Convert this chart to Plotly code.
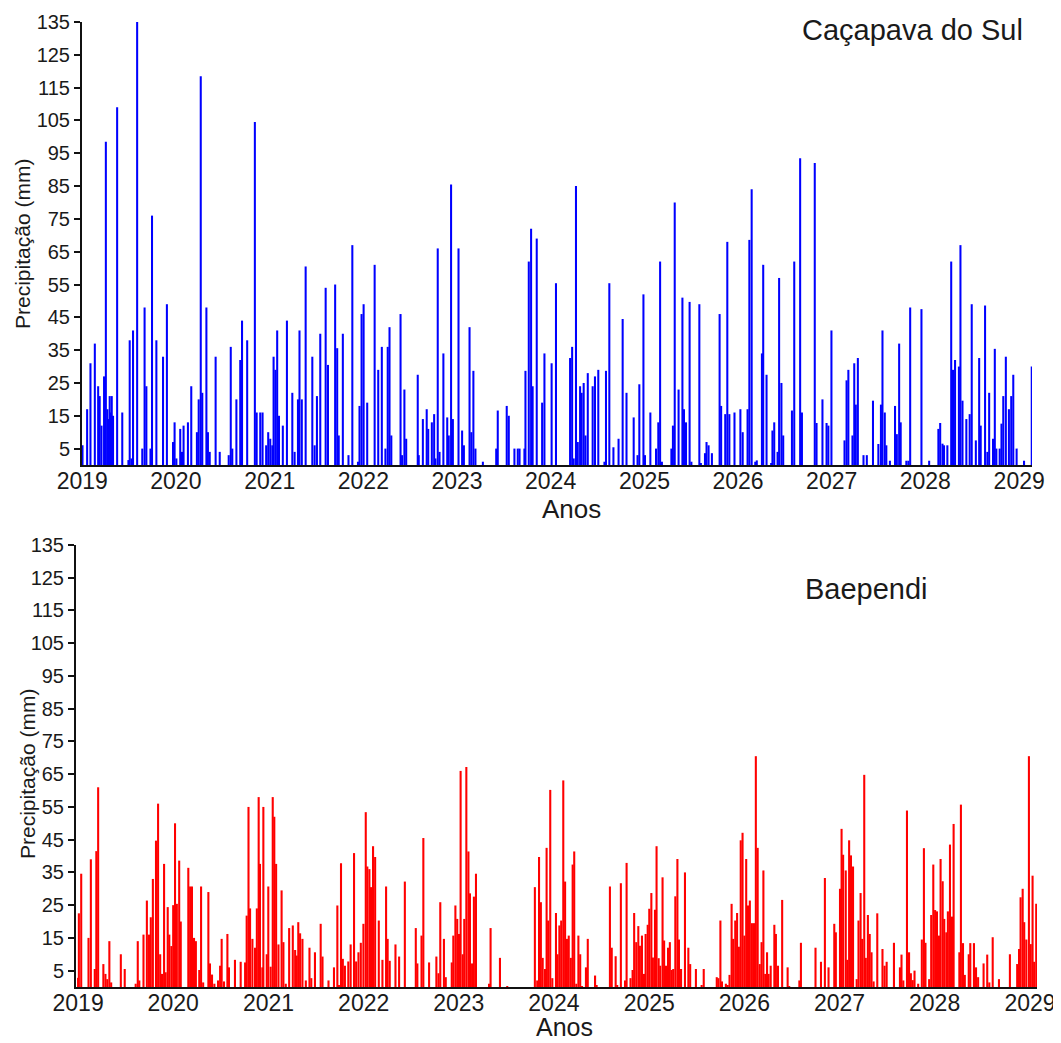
import pandas as pd
import plotly.graph_objects as go

# ---------------- data (day number counted from 2019-01-01, precipitation in mm) -------------
dias_cs = [1, 19, 32, 49, 62, 68, 75, 85, 92, 98, 102, 107, 111, 115, 120, 136, 156, 180, 185, 192,
           198, 214, 234, 243, 250, 266, 272, 289, 315, 330, 354, 360, 367, 382, 389, 395, 412, 425,
           447, 454, 462, 468, 484, 490, 497, 520, 536, 571, 579, 585, 601, 616, 623, 643, 673, 680,
           694, 703, 717, 725, 733, 741, 746, 753, 760, 767, 782, 798, 819, 828, 841, 847, 856, 871,
           897, 906, 915, 928, 949, 958, 986, 994, 1000, 1016, 1038, 1053, 1075, 1081, 1089, 1097,
           1111, 1140, 1154, 1168, 1182, 1191, 1198, 1205, 1241, 1247, 1256, 1263, 1308, 1312, 1328,
           1343, 1349, 1363, 1372, 1377, 1386, 1393, 1408, 1423, 1429, 1438, 1445, 1467, 1481, 1488,
           1510, 1517, 1525, 1533, 1562, 1614, 1620, 1655, 1663, 1685, 1698, 1705, 1724, 1728, 1741,
           1750, 1756, 1772, 1793, 1802, 1830, 1847, 1902, 1910, 1916, 1925, 1932, 1941, 1947, 1955,
           1962, 1971, 1990, 1999, 2012, 2036, 2042, 2055, 2071, 2091, 2107, 2122, 2150, 2165, 2172,
           2188, 2194, 2215, 2237, 2246, 2253, 2260, 2297, 2303, 2310, 2325, 2340, 2346, 2354, 2368,
           2375, 2406, 2412, 2428, 2434, 2442, 2455, 2485, 2491, 2507, 2515, 2523, 2543, 2566, 2575,
           2594, 2601, 2610, 2624, 2630, 2650, 2655, 2668, 2686, 2691, 2698, 2711, 2717, 2726, 2733,
           2767, 2776, 2799, 2806, 2856, 2863, 2886, 2902, 2909, 2921, 2972, 2980, 2987, 3003, 3010,
           3016, 3024, 3046, 3059, 3083, 3104, 3114, 3120, 3129, 3135, 3149, 3169, 3176, 3185, 3191,
           3213, 3221, 3228, 3272, 3302, 3338, 3345, 3354, 3360, 3373, 3388, 3395, 3403, 3418, 3424,
           3432, 3447, 3460, 3468, 3484, 3497, 3503, 3520, 3529, 3536, 3551, 3558, 3564, 3577, 3584,
           3591, 3601, 3613, 3622, 3630, 3643, 3672, 3702]
chuva_cs = [6, 17, 31, 37, 24, 21, 12, 27, 98.5, 17, 14, 21, 16, 21, 15, 109, 16, 1.5, 38, 2,
            41, 135, 5, 48, 24, 5, 76, 38, 33, 49, 7, 13, 2, 11, 4, 12, 13, 24,
            10, 20, 118.5, 22, 48, 10, 4, 33, 4, 3, 36, 5, 20, 32, 44, 38, 104.5, 16,
            16, 16, 6, 10, 8, 6, 33, 29, 41, 15, 12, 44, 22, 4, 20, 41, 20, 60.5,
            33, 6, 21, 40, 54, 30.5, 55, 35.6, 9, 40, 3, 67, 1, 18, 46, 49,
            19, 61, 29, 36, 5, 36, 42, 9, 46, 3, 23, 8, 27.5, 3, 14,
            17, 11, 13, 15.5, 2, 66, 4, 34, 14.5, 9, 85.5, 14, 66, 10.5, 6,
            42, 10, 28.7, 5, 1, 5, 16.6, 18, 15, 5, 5, 5, 5, 28.7, 62,
            72, 24, 69, 19, 34, 31, 55.4, 32.6, 36, 2, 85, 7, 24, 22, 25,
            9, 28, 24, 27, 29, 1, 28.7, 55.4, 5.4, 8, 44.5, 22, 14.5, 3, 24.6,
            52, 3, 16, 5, 13, 62, 1, 5, 12, 80, 23, 51, 17, 13, 49.7,
            1, 49, 0.5, 3.6, 7, 6, 3.6, 46, 18, 15.5, 68, 15.5, 16, 17, 10,
            17, 68.6, 84, 1, 1.4, 34, 61, 27.5, 0.6, 10.5, 13, 4, 57, 25, 9,
            16.6, 62, 93.5, 16, 92, 12.8, 20, 12.8, 12, 41, 7.5, 25.8, 29, 9, 31,
            18.4, 32.6, 3, 3, 19.6, 6.4, 18.4, 41, 16, 6, 1.3, 18, 9.4, 37, 13,
            1.3, 1.3, 48, 47.5, 1.3, 11, 12.8, 6.5, 6, 6, 62, 29, 32, 30, 67,
            19.6, 14, 15.5, 49, 7.5, 32.6, 12, 48.6, 4, 22, 8, 35.4, 5, 5, 12.6,
            21, 33, 17, 21, 27.5, 5, 1.3, 30]

dias_bp = [0, 3, 12, 40, 49, 64, 70, 77, 97, 105, 112, 120, 127, 164, 179, 221, 229, 235, 251, 264,
           272, 279, 287, 299, 307, 315, 322, 330, 336, 344, 350, 358, 365, 372, 379, 388, 394, 423,
           430, 437, 445, 452, 465, 472, 480, 500, 506, 514, 523, 537, 545, 551, 560, 573, 579, 602,
           624, 641, 647, 654, 660, 669, 679, 686, 693, 698, 707, 711, 724, 730, 739, 747, 753, 760,
           769, 781, 788, 797, 810, 824, 833, 839, 845, 852, 861, 874, 888, 895, 909, 931, 938, 961,
           982, 995, 1001, 1009, 1016, 1024, 1037, 1046, 1059, 1067, 1076, 1085, 1095, 1104, 1110,
           1118, 1124, 1132, 1140, 1154, 1168, 1182, 1188, 1196, 1218, 1232, 1254, 1296, 1302, 1318,
           1325, 1347, 1375, 1383, 1390, 1404, 1411, 1434, 1440, 1448, 1455, 1462, 1468, 1476, 1482,
           1490, 1498, 1504, 1512, 1519, 1527, 1577, 1583, 1619, 1647, 1753, 1762, 1769, 1776, 1783,
           1792, 1798, 1804, 1812, 1820, 1834, 1840, 1847, 1854, 1862, 1869, 1876, 1883, 1891, 1898,
           1904, 1912, 1920, 1927, 1934, 1949, 1956, 1984, 1990, 2041, 2048, 2063, 2069, 2083, 2099,
           2105, 2120, 2128, 2134, 2142, 2150, 2156, 2164, 2172, 2178, 2186, 2192, 2200, 2206, 2214,
           2220, 2228, 2234, 2243, 2249, 2256, 2264, 2271, 2278, 2284, 2292, 2300, 2306, 2314, 2329,
           2342, 2349, 2371, 2393, 2401, 2451, 2457, 2465, 2471, 2486, 2493, 2500, 2508, 2514, 2522,
           2529, 2536, 2543, 2550, 2557, 2564, 2571, 2578, 2586, 2594, 2601, 2608, 2616, 2623, 2630,
           2637, 2644, 2650, 2658, 2672, 2678, 2686, 2702, 2723, 2729, 2768, 2774, 2830, 2851, 2866,
           2880, 2902, 2908, 2924, 2930, 2936, 2946, 2952, 2959, 2966, 2974, 2988, 2995, 3003, 3009,
           3017, 3023, 3031, 3038, 3045, 3053, 3067, 3087, 3095, 3103, 3131, 3154, 3160, 3167, 3181,
           3189, 3196, 3203, 3210, 3224, 3238, 3246, 3252, 3266, 3274, 3282, 3289, 3296, 3304, 3310,
           3318, 3324, 3332, 3338, 3346, 3354, 3360, 3382, 3388, 3396, 3403, 3418, 3424, 3438, 3446,
           3454, 3475, 3489, 3497, 3510, 3534, 3576, 3604, 3611, 3617, 3625, 3631, 3639, 3649, 3656,
           3663, 3669, 3677]
chuva_bp = [2.8, 22.5, 34.6, 15, 39, 5.5, 41.5, 61, 7, 4, 2.4, 14, 1.4, 10, 5.5, 1, 14, 2, 16, 26.4,
            16, 21.3, 33, 44.7, 56, 10, 4, 37.6, 4.5, 24.4, 16, 12.5, 25, 50, 25.4, 38.6, 20, 36.4,
            30.7, 30.7, 15, 14, 5.2, 30.7, 1.4, 29, 7.2, 3.8, 1, 2, 6.5, 14.7, 1.7, 16.2, 6, 8.3,
            7.7, 7.5, 21.8, 55, 24, 14.7, 12, 24, 58, 37.6, 6, 55, 10, 30.7, 6.2, 58, 52, 37.6,
            13, 29.5, 13.7, 1, 18, 18.8, 11.3, 9.6, 19.8, 16.4, 14.7, 2, 12, 2.7, 10.6, 19.3, 9.3, 2,
            6, 24.9, 0.5, 37.8, 8.6, 6.5, 7.8, 13, 40.9, 7.8, 10.6, 13.5, 19.3, 53.4, 36.8,
            36, 30.5, 43, 39.7, 20.3, 8.3, 30.7, 14.7, 8, 13, 9.3, 32.2, 18, 7.2, 15.7,
            45.5, 7.5, 9.3, 4.2, 25.9, 14.7, 3, 7.5, 15.7, 24.9, 20.8, 16.2, 66, 10, 20.8,
            67.2, 41.4, 28.6, 7.2, 27.6, 34.6, 1, 18, 8.9, 0.3, 30.5, 2, 39.7, 25.9, 8.9,
            5.5, 42.5, 20.3, 60.2, 2.7, 22.6, 10, 18.8, 20.3, 63.1, 32.2, 14.7, 15.7, 8.9, 37.4,
            41.4, 1, 15.7, 10, 0.3, 6, 14.7, 3.5, 0.4, 30.7, 12, 9.4, 0.4, 31.7, 2,
            37.9, 2.7, 5.2, 22.6, 13.7, 18.6, 12.6, 15.7, 4, 16.2, 19, 23.9, 28.7, 9, 23.6,
            43, 8.8, 6.5, 33.5, 14.2, 6.5, 12, 13.7, 5.2, 5.5, 27.7, 39.1, 14.5, 5.5, 35,
            12, 7, 5.5, 0.4, 5.5, 3, 2.7, 20.3, 1.7, 1, 0.4, 3.7, 25.4, 14.7, 20.3,
            22.6, 12.3, 44.8, 47.1, 15.7, 39.1, 24.9, 26.4, 19.5, 19.5, 70.5, 42.5, 7, 13.7, 35.6,
            4, 10.6, 4, 6.5, 19, 16.2, 6.5, 26.6, 6, 0.3, 2, 13.5, 12, 7.7, 33.3,
            6, 19.3, 16.7, 30, 48.3, 40.4, 35.6, 8.3, 44.8, 40.2, 36.8, 2.4, 20.3, 28.7, 14.7,
            64.8, 8.9, 22, 16.2, 10.6, 1.7, 22.5, 11.6, 6.5, 7.7, 13.5, 6, 9.9, 2, 53.9,
            10.6, 4.2, 2.1, 5, 1, 14.5, 42.4, 13.5, 2.4, 22, 37.4, 23.5, 23.1, 15.7, 39.1,
            32.3, 20.8, 16.7, 23.1, 43.5, 21.5, 49.8, 10.6, 55.7, 13.4, 3.7, 10, 13.4, 13.4, 6,
            3, 7.2, 9.9, 1.4, 15.2, 2.4, 10, 7, 11.6, 27.4, 30, 19.8, 14.5, 70.5, 13.1,
            34, 7.7, 25.4]

anos = list(range(2019, 2030))
ticks_y = list(range(5, 136, 10))
titulo_cs = "Caçapava do Sul"
titulo_bp = "Baependi"

# ---------------- build ----------------
inicio = pd.Timestamp("2019-01-01")
def datas(d):
    return [inicio + pd.Timedelta(days=int(v)) for v in d]

OFF = 8                     # default page margin of the html body
W, H = 1061 - OFF, 1043 - OFF
FONT = "Liberation Sans, Arial, sans-serif"
largura = 8 * 86400000      # bar width (ms)

fig = go.Figure()
fig.add_trace(go.Bar(x=datas(dias_cs), y=chuva_cs, xaxis="x", yaxis="y",
                     marker=dict(color="#0000FF", line=dict(width=0)),
                     width=[largura] * len(dias_cs), showlegend=False))
fig.add_trace(go.Bar(x=datas(dias_bp), y=chuva_bp, xaxis="x2", yaxis="y2",
                     marker=dict(color="#FF0000", line=dict(width=0)),
                     width=[largura] * len(dias_bp), showlegend=False))

def px_x(p):
    return (p - OFF) / W

def px_y(p):
    return 1 - (p - OFF) / H

tickvals_x = [pd.Timestamp(f"{a}-01-01") for a in anos]
ticktext_x = [str(a) for a in anos]

xcommon = dict(type="date", tickvals=tickvals_x, ticktext=ticktext_x, showline=True,
               linecolor="#111111", linewidth=2, ticks="", showgrid=False, zeroline=False,
               automargin=False, ticklabelstandoff=-6,
               tickfont=dict(size=23, color="#1a1a1a", family=FONT), fixedrange=True)
ycommon = dict(range=[0, 135], tickvals=ticks_y, ticks="outside", ticklen=6, tickwidth=1.5,
               tickcolor="#111111", showline=True, linecolor="#111111", linewidth=2,
               showgrid=False, zeroline=False, automargin=False,
               tickfont=dict(size=20, color="#1a1a1a", family=FONT))

fig.update_layout(
    width=W, height=H,
    margin=dict(l=0, r=0, t=0, b=0),
    paper_bgcolor="white", plot_bgcolor="white",
    barmode="overlay",
    font=dict(family=FONT, color="#1a1a1a"),
    xaxis=dict(domain=[px_x(82), px_x(1032)], anchor="y",
               range=[inicio - pd.Timedelta(days=1), inicio + pd.Timedelta(days=3703)], **xcommon),
    yaxis=dict(domain=[px_y(465), px_y(22)], anchor="x", **ycommon),
    xaxis2=dict(domain=[px_x(76), px_x(1037)], anchor="y2",
                range=[inicio - pd.Timedelta(days=8), inicio + pd.Timedelta(days=3680)], **xcommon),
    yaxis2=dict(domain=[px_y(987), px_y(545)], anchor="x2", **ycommon),
)

def anot(texto, x, y, size, angle=0):
    fig.add_annotation(text=texto, x=px_x(x), y=px_y(y), xref="paper", yref="paper",
                       showarrow=False, xanchor="center", yanchor="middle", textangle=angle,
                       font=dict(size=size, family=FONT, color="#1a1a1a"))

anot(titulo_cs, 912, 30, 29)
anot(titulo_bp, 866, 589, 29)
anot("Anos", 571, 509, 26)
anot("Anos", 564, 1027, 25)
anot("Precipitação (mm)", 22, 244, 21, -90)
anot("Precipitação (mm)", 27, 774, 21, -90)

fig.write_html("out.html")
